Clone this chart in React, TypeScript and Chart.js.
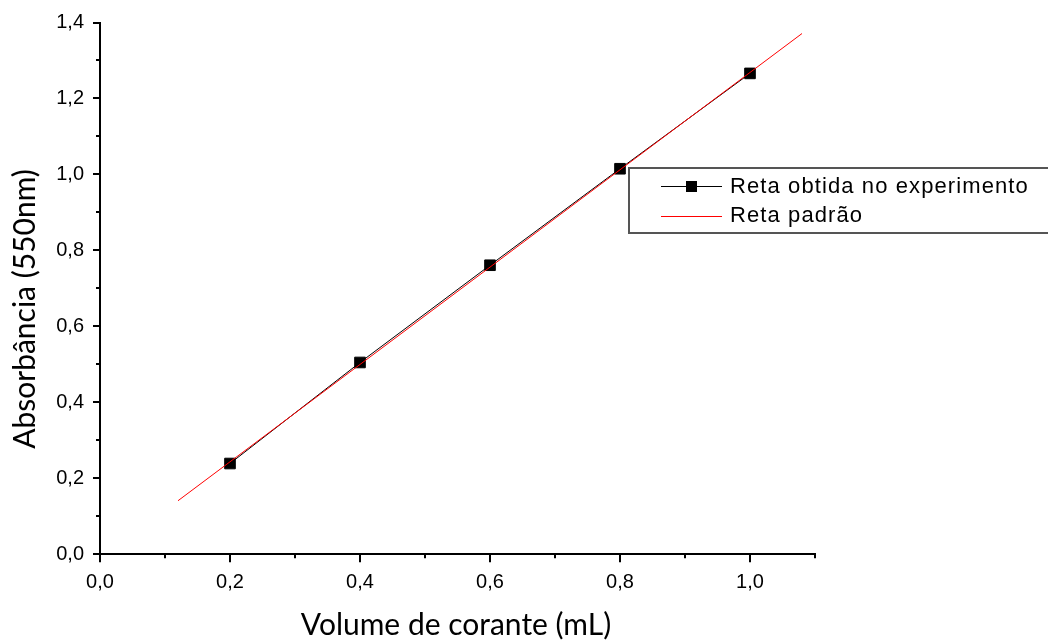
import React, { useEffect, useRef } from "react";
import { Chart, registerables } from "chart.js";

Chart.register(...registerables);

const volumes = [0.2, 0.4, 0.6, 0.8, 1.0];
const absorbances = [0.239, 0.505, 0.761, 1.015, 1.266];
const standardX = [0.12, 1.08];
const standardY = [0.141, 1.371];
const seriesLabels = ["Reta obtida no experimento", "Reta padrão"];
const xTitle = "Volume de corante (mL)";
const yTitle = "Absorbância (550nm)";

const fmt = (v: number) => v.toFixed(1).replace(".", ",");
const isMajor = (v: number) => Math.abs(Math.round(v * 10) % 2) === 0;

const decorPlugin = {
  id: "decor",
  afterDraw(chart: any) {
    const ctx = chart.ctx;
    const xs = chart.scales.x;
    const ys = chart.scales.y;
    const area = chart.chartArea;
    ctx.save();
    ctx.strokeStyle = "#000";
    ctx.lineWidth = 2;
    // x ticks
    for (let i = 0; i <= 11; i++) {
      const v = i / 10;
      const px = Math.round(xs.getPixelForValue(v));
      const len = i % 2 === 0 ? 8 : 4;
      ctx.beginPath();
      ctx.moveTo(px, area.bottom);
      ctx.lineTo(px, area.bottom + len);
      ctx.stroke();
    }
    for (let i = 0; i <= 14; i++) {
      const v = i / 10;
      const py = Math.round(ys.getPixelForValue(v));
      const len = i % 2 === 0 ? 7 : 4;
      ctx.beginPath();
      ctx.moveTo(area.left, py);
      ctx.lineTo(area.left - len, py);
      ctx.stroke();
    }
    // titles
    ctx.fillStyle = "#000";
    ctx.font = "30px Lato";
    ctx.textAlign = "center";
    ctx.textBaseline = "alphabetic";
    ctx.fillText(xTitle, 456, 635);
    ctx.save();
    ctx.translate(35, 309);
    ctx.rotate(-Math.PI / 2);
    ctx.fillText(yTitle, 0, 0);
    ctx.restore();
    // legend
    ctx.strokeStyle = "#555";
    ctx.lineWidth = 2;
    ctx.strokeRect(629, 168, 440, 65);
    ctx.strokeStyle = "#000";
    ctx.lineWidth = 1;
    ctx.beginPath();
    ctx.moveTo(661, 186.5);
    ctx.lineTo(722, 186.5);
    ctx.stroke();
    ctx.fillStyle = "#000";
    ctx.fillRect(686, 181, 11, 11);
    ctx.strokeStyle = "#ff0000";
    ctx.beginPath();
    ctx.moveTo(661, 216.5);
    ctx.lineTo(722, 216.5);
    ctx.stroke();
    ctx.fillStyle = "#000";
    ctx.font = "22px 'Liberation Sans'";
    (ctx as any).letterSpacing = "1.1px";
    ctx.textAlign = "left";
    ctx.textBaseline = "middle";
    ctx.fillText(seriesLabels[0], 730, 187);
    ctx.fillText(seriesLabels[1], 730, 216);
    ctx.restore();
  },
};

export default function App() {
  const ref = useRef<HTMLCanvasElement>(null);
  useEffect(() => {
    document.body.style.margin = "0";
    const chart = new Chart(ref.current!, {
      type: "scatter",
      data: {
        datasets: [
          {
            label: seriesLabels[1],
            data: standardX.map((x, i) => ({ x, y: standardY[i] })),
            showLine: true,
            borderColor: "#ff0000",
            borderWidth: 1,
            pointRadius: 0,
            order: 0,
          },
          {
            label: seriesLabels[0],
            data: volumes.map((x, i) => ({ x, y: absorbances[i] })),
            showLine: true,
            borderColor: "#000",
            backgroundColor: "#000",
            borderWidth: 1,
            pointStyle: "rect",
            pointRadius: 7.5,
            order: 1,
          },
        ],
      },
      options: {
        animation: false,
        responsive: false,
        layout: { padding: { top: 22.5, right: 233, left: 0, bottom: 0 } },
        plugins: { legend: { display: false }, tooltip: { enabled: false } },
        scales: {
          x: {
            type: "linear",
            min: 0,
            max: 1.1,
            afterFit: (s: any) => {
              s.height = 86.7;
              s.paddingLeft = 0;
              s.paddingRight = 0;
            },
            grid: { display: false, drawTicks: false },
            border: { display: true, color: "#000", width: 2 },
            ticks: {
              stepSize: 0.1,
              padding: 16,
              color: "#000",
              font: { family: "'Liberation Sans'", size: 20 },
              maxRotation: 0,
              autoSkip: false,
              callback: (v: any) => (isMajor(Number(v)) && Number(v) < 1.05 ? fmt(Number(v)) : ""),
            },
          },
          y: {
            type: "linear",
            min: 0,
            max: 1.4,
            afterFit: (s: any) => {
              s.width = 100;
              s.paddingTop = 0;
              s.paddingBottom = 0;
            },
            grid: { display: false, drawTicks: false },
            border: { display: true, color: "#000", width: 2 },
            ticks: {
              stepSize: 0.1,
              padding: 16,
              color: "#000",
              font: { family: "'Liberation Sans'", size: 20 },
              autoSkip: false,
              callback: (v: any) => (isMajor(Number(v)) ? fmt(Number(v)) : ""),
            },
          },
        },
      },
      plugins: [decorPlugin],
    });
    return () => chart.destroy();
  }, []);
  return (
    <div style={{ width: 1048, height: 641, position: "relative" }}>
      <canvas ref={ref} width={1048} height={641} />
    </div>
  );
}
